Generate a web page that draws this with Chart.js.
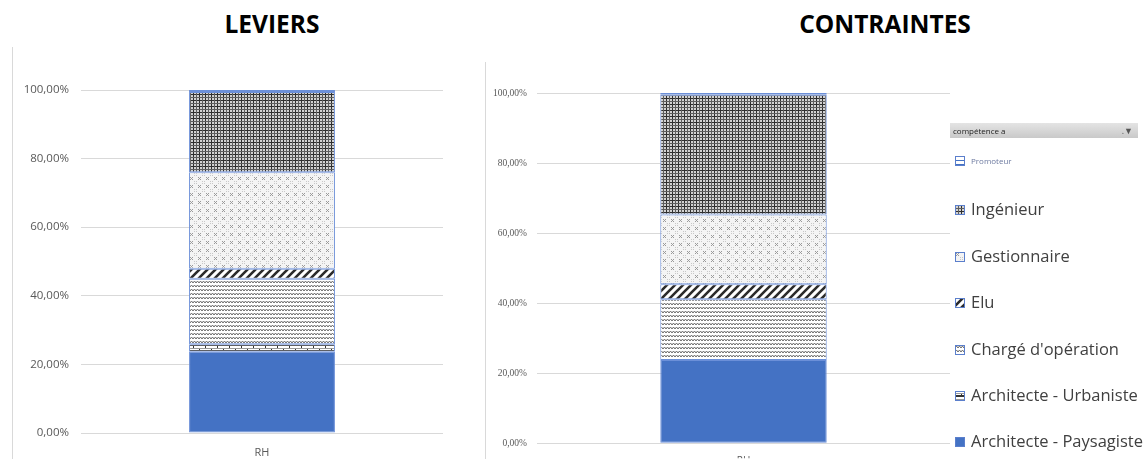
<!DOCTYPE html>
<html>
<head>
<meta charset="utf-8">
<script src="https://cdn.jsdelivr.net/npm/chart.js@4"></script>
<style>
  body { margin: 0; background: #fff; width: 1146px; height: 459px; overflow: hidden; position: relative; font-family: "Open Sans", sans-serif; }
  .title { position: absolute; top: 7px; font-weight: bold; font-size: 24.5px; color: #000; text-align: center; }
  .frame { position: absolute; width: 1px; background: #d9d9d9; }
  .box { position: absolute; }
  #legend { position: absolute; left: 950px; top: 123px; width: 196px; }
  .lhead { height: 15px; width: 188px; background: linear-gradient(#e4e4e4, #c9c9c9); font-size: 8px; color: #222; line-height: 15px; padding-left: 3px; box-sizing: border-box; position: relative; }
  .lhead span { position: absolute; right: 5px; top: 0; font-size: 9px; color: #555; }
  .litem { position: absolute; left: 5px; white-space: nowrap; color: #404040; font-size: 16.5px; }
  .litem canvas { vertical-align: middle; margin-right: 6px; position: relative; top: -1px; }
</style>
</head>
<body>
<div class="title" style="left:172px;width:200px;">LEVIERS</div>
<div class="title" style="left:785px;width:200px;">CONTRAINTES</div>
<div class="frame" style="left:12px;top:47px;height:412px;"></div>
<div class="frame" style="left:485px;top:62px;height:397px;"></div>
<div class="box" style="left:13px;top:40px;width:447px;height:419px;"><canvas id="leviers"></canvas></div>
<div class="box" style="left:486px;top:50px;width:474px;height:409px;"><canvas id="contraintes"></canvas></div>
<div id="legend"><div class="lhead">compétence a<span>.&#9660;</span></div></div>
<script>
const categories = ['RH'];
const seriesNames = ['Architecte - Paysagiste', 'Architecte - Urbaniste', "Chargé d'opération", 'Elu', 'Gestionnaire', 'Ingénieur', 'Promoteur'];
const leviersValues = [23.7, 2.2, 19.1, 2.9, 28.1, 23.4, 0.6];
const contraintesValues = [23.8, 0, 17.3, 4.3, 19.9, 34.2, 0.5];
const yTicks = [0, 20, 40, 60, 80, 100];

// small tiles used as fills, like the excel pattern fills
function tile(w, h, draw) {
  const c = document.createElement('canvas');
  c.width = w; c.height = h;
  const g = c.getContext('2d');
  g.fillStyle = '#fff';
  g.fillRect(0, 0, w, h);
  draw(g);
  return g.createPattern(c, 'repeat');
}

function makeFills() {
  return [
    '#4472c4',
    tile(12, 6, g => {
      g.fillStyle = '#333';
      g.fillRect(0, 4, 12, 2);
      g.fillRect(0, 0, 1, 2);
      g.fillRect(6, 2, 1, 2);
      g.fillStyle = '#999';
      g.fillRect(0, 2, 12, 1);
    }),
    tile(6, 4, g => {
      g.strokeStyle = '#6a6a6a';
      g.lineWidth = 1;
      g.beginPath();
      g.moveTo(0, 3); g.lineTo(1.5, 1); g.lineTo(3, 3); g.lineTo(4.5, 1); g.lineTo(6, 3);
      g.stroke();
    }),
    tile(8, 8, g => {
      g.strokeStyle = '#2b2b2b';
      g.lineWidth = 2.6;
      g.beginPath();
      g.moveTo(-2, 10); g.lineTo(10, -2);
      g.moveTo(-6, 6); g.lineTo(6, -6);
      g.moveTo(2, 14); g.lineTo(14, 2);
      g.stroke();
    }),
    tile(8, 8, g => {
      g.fillStyle = '#f4f4f4';
      g.fillRect(0, 0, 8, 8);
      g.fillStyle = '#9a9a9a';
      g.fillRect(1, 1, 1, 1); g.fillRect(3, 1, 1, 1);
      g.fillRect(2, 2, 1, 1);
      g.fillRect(1, 3, 1, 1); g.fillRect(3, 3, 1, 1);
      g.fillStyle = '#c8c8c8';
      g.fillRect(5, 5, 1, 1); g.fillRect(7, 7, 1, 1); g.fillRect(5, 7, 1, 1); g.fillRect(7, 5, 1, 1);
    }),
    tile(6, 6, g => {
      g.fillStyle = '#d2d2d2';
      g.fillRect(0, 0, 6, 6);
      g.fillStyle = '#2e2e2e';
      g.fillRect(0, 0, 1, 6); g.fillRect(0, 0, 6, 1);
      g.fillStyle = '#5e5e5e';
      g.fillRect(3, 0, 1, 6); g.fillRect(0, 3, 6, 1);
    }),
    tile(4, 4, g => {
      g.fillStyle = '#4472c4';
      g.fillRect(0, 0, 4, 1);
    })
  ];
}

const fills = makeFills();

function buildDatasets(values) {
  return seriesNames.map((name, i) => ({
    label: name,
    data: [values[i]],
    backgroundColor: fills[i],
    borderColor: '#6b8fd8',
    borderWidth: values[i] > 0 ? 1 : 0,
    borderSkipped: false,
    categoryPercentage: 1,
    barPercentage: 0.403
  }));
}

function makeChart(id, values, o) {
  const ctx = document.getElementById(id).getContext('2d');
  return new Chart(ctx, {
    type: 'bar',
    data: { labels: categories, datasets: buildDatasets(values) },
    options: {
      responsive: true,
      maintainAspectRatio: false,
      animation: false,
      layout: { padding: { top: o.top, right: o.right, left: 0, bottom: 0 } },
      plugins: { legend: { display: false }, tooltip: { enabled: false } },
      scales: {
        x: {
          stacked: true,
          grid: { display: false },
          border: { display: false },
          ticks: { color: '#595959', font: { size: o.xFont, family: 'Open Sans' }, padding: o.xPad },
          afterFit: s => { s.height = o.xH; }
        },
        y: {
          stacked: true,
          min: 0,
          max: 100,
          afterBuildTicks: s => { s.ticks = yTicks.map(v => ({ value: v })); },
          grid: { color: '#d9d9d9', drawTicks: false },
          border: { display: false },
          ticks: {
            color: '#595959',
            padding: o.yPad,
            font: { size: o.yFont, family: o.yFamily },
            callback: v => v.toFixed(2).replace('.', ',') + '%'
          },
          afterFit: s => { s.width = o.yW; }
        }
      }
    }
  });
}

makeChart('leviers', leviersValues, { top: 50, right: 17, xH: 26, xPad: 5, xFont: 11, yW: 68, yPad: 12, yFont: 11.5, yFamily: 'Open Sans' });
makeChart('contraintes', contraintesValues, { top: 43, right: 10, xH: 15, xPad: 4, xFont: 10, yW: 51, yPad: 10, yFont: 9.5, yFamily: 'Liberation Serif' });

// legend for the right chart, top item = last series
const legendY = [162, 209, 256, 302, 349, 395, 441];
const legend = document.getElementById('legend');
seriesNames.slice().reverse().forEach((name, k) => {
  const i = seriesNames.length - 1 - k;
  const item = document.createElement('div');
  item.className = 'litem';
  const small = name === 'Promoteur';
  const sw = document.createElement('canvas');
  sw.width = 10; sw.height = 10;
  const g = sw.getContext('2d');
  g.fillStyle = fills[i];
  g.fillRect(0, 0, 10, 10);
  g.strokeStyle = '#5b7fcc';
  g.lineWidth = 1;
  g.strokeRect(0.5, 0.5, 9, 9);
  item.appendChild(sw);
  item.appendChild(document.createTextNode(name));
  if (small) { item.style.fontSize = '8px'; item.style.color = '#6d7aa0'; }
  item.style.top = (legendY[k] - 123 - (small ? 7 : 12)) + 'px';
  legend.appendChild(item);
});
</script>
</body>
</html>
